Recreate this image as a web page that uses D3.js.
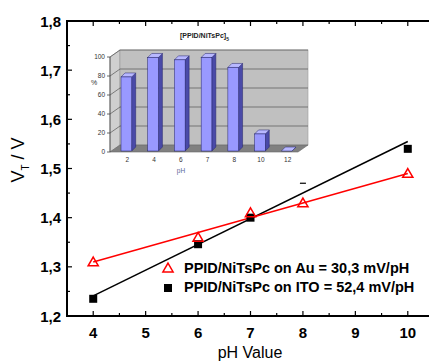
<!DOCTYPE html>
<html>
<head>
<meta charset="utf-8">
<script src="https://cdn.jsdelivr.net/npm/d3@7"></script>
<style>
  body { margin: 0; background: #fff; }
  svg { display: block; font-family: Arial, "Liberation Sans", sans-serif; }
</style>
</head>
<body>
<svg width="429" height="361"></svg>
<script>
// main chart data
const phAu = [4, 6, 7, 8, 10];
const vAu = [1.31, 1.36, 1.41, 1.43, 1.49];
const phITO = [4, 6, 7, 10];
const vITO = [1.235, 1.346, 1.40, 1.54];
const fitAu = [[4, 1.31], [10, 1.49]];
const fitITO = [[4, 1.241], [10, 1.555]];
const stray = [[8, 1.47]];
const xTicks = [4, 5, 6, 7, 8, 9, 10];
const yTicks = [1.2, 1.3, 1.4, 1.5, 1.6, 1.7, 1.8];
const legendLabels = ["PPID/NiTsPc on Au = 30,3 mV/pH", "PPID/NiTsPc on ITO = 52,4 mV/pH"];

// inset bar chart data
const insetCats = ["2", "4", "6", "7", "8", "10", "12"];
const insetVals = [79, 99.5, 97, 99.5, 89, 19, 1];
const insetTicks = [0, 20, 40, 60, 80, 100];

const svg = d3.select("svg");
const fmt = d => d3.format(".1f")(d).replace(".", ",");

const x = d3.scaleLinear().domain([3.5, 10.5]).range([67, 434]);
const y = d3.scaleLinear().domain([1.2, 1.8]).range([316, 21]);

// ----- inset (drawn first, under the lines) -----
const inset = svg.append("g");
const dx = 10, dy = -7;
const ix = d3.scaleBand().domain(insetCats).range([113, 300]).paddingInner(0.6).paddingOuter(0.3);
const iy = d3.scaleLinear().domain([0, 100]).range([152, 57]);
const x0 = 110, x1 = 298;

// left wall
inset.append("path")
  .attr("d", `M${x0},${iy(0)}L${x0 + dx},${iy(0) + dy}L${x0 + dx},${iy(100) + dy}L${x0},${iy(100)}Z`)
  .attr("fill", "#cfcfcf").attr("stroke", "#888").attr("stroke-width", 0.6);
// back wall
inset.append("rect")
  .attr("x", x0 + dx).attr("y", iy(100) + dy)
  .attr("width", x1 - x0).attr("height", iy(0) - iy(100))
  .attr("fill", "#c0c0c0").attr("stroke", "#999").attr("stroke-width", 0.6);
// floor
inset.append("path")
  .attr("d", `M${x0},${iy(0)}L${x1},${iy(0)}L${x1 + dx},${iy(0) + dy}L${x0 + dx},${iy(0) + dy}Z`)
  .attr("fill", "#808080").attr("stroke", "#666").attr("stroke-width", 0.6);
// gridlines
inset.selectAll(".grid").data(insetTicks.filter(t => t > 0)).enter().append("path")
  .attr("d", t => `M${x0},${iy(t)}L${x0 + dx},${iy(t) + dy}L${x1 + dx},${iy(t) + dy}`)
  .attr("fill", "none").attr("stroke", "#555").attr("stroke-width", 0.7);
// left axis
inset.append("line").attr("x1", x0).attr("x2", x0).attr("y1", iy(0)).attr("y2", iy(100))
  .attr("stroke", "#444").attr("stroke-width", 0.8);
inset.selectAll(".itick").data(insetTicks).enter().append("line")
  .attr("x1", x0 - 3).attr("x2", x0).attr("y1", d => iy(d)).attr("y2", d => iy(d))
  .attr("stroke", "#444").attr("stroke-width", 0.8);
inset.selectAll(".ilab").data(insetTicks).enter().append("text")
  .attr("x", x0 - 5).attr("y", d => iy(d) + 2.3)
  .attr("text-anchor", "end").attr("font-size", 6.5).attr("fill", "#333")
  .text(d => d);
inset.append("text").attr("x", 91).attr("y", 85).attr("font-size", 7).attr("fill", "#333").text("%");

// bars (front face, side, top)
const bw = ix.bandwidth(), bd = 4;
const bars = inset.selectAll(".ibar").data(insetCats).enter().append("g");
bars.append("path")
  .attr("d", (c, i) => {
    const bx = ix(c) + bw, t = iy(insetVals[i]), b = iy(0) - 1;
    return `M${bx},${b}L${bx + bd},${b - bd}L${bx + bd},${t - bd}L${bx},${t}Z`;
  })
  .attr("fill", "#4a4aa8").attr("stroke", "#22226a").attr("stroke-width", 0.5);
bars.append("path")
  .attr("d", (c, i) => {
    const bx = ix(c), t = iy(insetVals[i]);
    return `M${bx},${t}L${bx + bd},${t - bd}L${bx + bw + bd},${t - bd}L${bx + bw},${t}Z`;
  })
  .attr("fill", "#b8b8ff").attr("stroke", "#22226a").attr("stroke-width", 0.5);
bars.append("rect")
  .attr("x", c => ix(c)).attr("y", (c, i) => iy(insetVals[i]))
  .attr("width", bw).attr("height", (c, i) => iy(0) - 1 - iy(insetVals[i]))
  .attr("fill", "#9999ff").attr("stroke", "#22226a").attr("stroke-width", 0.5);
inset.selectAll(".xlab").data(insetCats).enter().append("text")
  .attr("x", c => ix(c) + bw / 2 + 1).attr("y", 162)
  .attr("text-anchor", "middle").attr("font-size", 6.5).attr("fill", "#333")
  .text(c => c);
inset.append("text").attr("x", 181).attr("y", 173).attr("text-anchor", "middle")
  .attr("font-size", 6.5).attr("fill", "#5a6a9a").text("pH");
const title = inset.append("text").attr("x", 180).attr("y", 38)
  .attr("font-size", 7).attr("font-weight", "bold").attr("fill", "#222");
title.append("tspan").text("[PPID/NiTsPc]");
title.append("tspan").attr("dy", 3).attr("font-size", 5).text("5");

// ----- main axes -----
const ax = svg.append("g");
ax.append("line").attr("x1", 67).attr("x2", 429).attr("y1", 316).attr("y2", 316)
  .attr("stroke", "#000").attr("stroke-width", 2);
ax.append("line").attr("x1", 67).attr("x2", 429).attr("y1", 21).attr("y2", 21)
  .attr("stroke", "#000").attr("stroke-width", 2);
ax.append("line").attr("x1", 67).attr("x2", 67).attr("y1", 20).attr("y2", 317)
  .attr("stroke", "#000").attr("stroke-width", 2);

const xMinor = d3.range(3.5, 10.51, 0.5);
ax.selectAll(".xt").data(xMinor).enter().append("line")
  .attr("x1", d => x(d)).attr("x2", d => x(d))
  .attr("y1", 316).attr("y2", d => 316 - (Number.isInteger(d) ? 5 : 3))
  .attr("stroke", "#000").attr("stroke-width", 1.2);
ax.selectAll(".xtt").data(xMinor).enter().append("line")
  .attr("x1", d => x(d)).attr("x2", d => x(d))
  .attr("y1", 21).attr("y2", d => 21 + (Number.isInteger(d) ? 5 : 3))
  .attr("stroke", "#000").attr("stroke-width", 1.2);
const yMinor = d3.range(1.2, 1.801, 0.05);
ax.selectAll(".yt").data(yMinor).enter().append("line")
  .attr("x1", 67).attr("x2", (d, i) => 67 + (i % 2 === 0 ? 5 : 3))
  .attr("y1", d => y(d)).attr("y2", d => y(d))
  .attr("stroke", "#000").attr("stroke-width", 1.2);

ax.selectAll(".xl").data(xTicks).enter().append("text")
  .attr("x", d => x(d)).attr("y", 338).attr("text-anchor", "middle")
  .attr("font-size", 15).attr("font-weight", "bold").text(d => d);
ax.selectAll(".yl").data(yTicks).enter().append("text")
  .attr("x", 61).attr("y", d => y(d) + 5.5).attr("text-anchor", "end")
  .attr("font-size", 15).attr("font-weight", "bold").text(fmt);
ax.append("text").attr("x", 250).attr("y", 358).attr("text-anchor", "middle")
  .attr("font-size", 16).text("pH Value");
const yl = ax.append("text").attr("transform", "translate(24,160) rotate(-90)")
  .attr("text-anchor", "middle").attr("font-size", 18);
yl.append("tspan").text("V");
yl.append("tspan").attr("dy", 5).attr("font-size", 10).text("T");
yl.append("tspan").attr("dy", -5).text(" / V");

// ----- series -----
const line = d3.line().x(d => x(d[0])).y(d => y(d[1]));
svg.append("path").datum(fitITO).attr("d", line)
  .attr("fill", "none").attr("stroke", "#000").attr("stroke-width", 1.5);
svg.append("path").datum(fitAu).attr("d", line)
  .attr("fill", "none").attr("stroke", "#ff0000").attr("stroke-width", 1.5);

const tri = d3.symbol().type(d3.symbolTriangle).size(45);
svg.selectAll(".sq").data(phITO).enter().append("rect")
  .attr("x", d => x(d) - 4).attr("y", (d, i) => y(vITO[i]) - 4)
  .attr("width", 8).attr("height", 8).attr("fill", "#000");
svg.selectAll(".tr").data(phAu).enter().append("path")
  .attr("d", tri)
  .attr("transform", (d, i) => `translate(${x(d)},${y(vAu[i]) + 1})`)
  .attr("fill", "none").attr("stroke", "#ff0000").attr("stroke-width", 1.5);
svg.selectAll(".stray").data(stray).enter().append("line")
  .attr("x1", d => x(d[0]) - 3).attr("x2", d => x(d[0]) + 3)
  .attr("y1", d => y(d[1])).attr("y2", d => y(d[1]))
  .attr("stroke", "#000").attr("stroke-width", 1.2);

// ----- legend -----
const lg = svg.append("g");
lg.append("path").attr("d", tri).attr("transform", "translate(168,269)")
  .attr("fill", "none").attr("stroke", "#ff0000").attr("stroke-width", 1.5);
lg.append("rect").attr("x", 164).attr("y", 284).attr("width", 8).attr("height", 8).attr("fill", "#000");
lg.selectAll(".lt").data(legendLabels).enter().append("text")
  .attr("x", 184).attr("y", (d, i) => 273 + i * 19)
  .attr("font-size", 14.5).attr("font-weight", "bold").text(d => d);
</script>
</body>
</html>
